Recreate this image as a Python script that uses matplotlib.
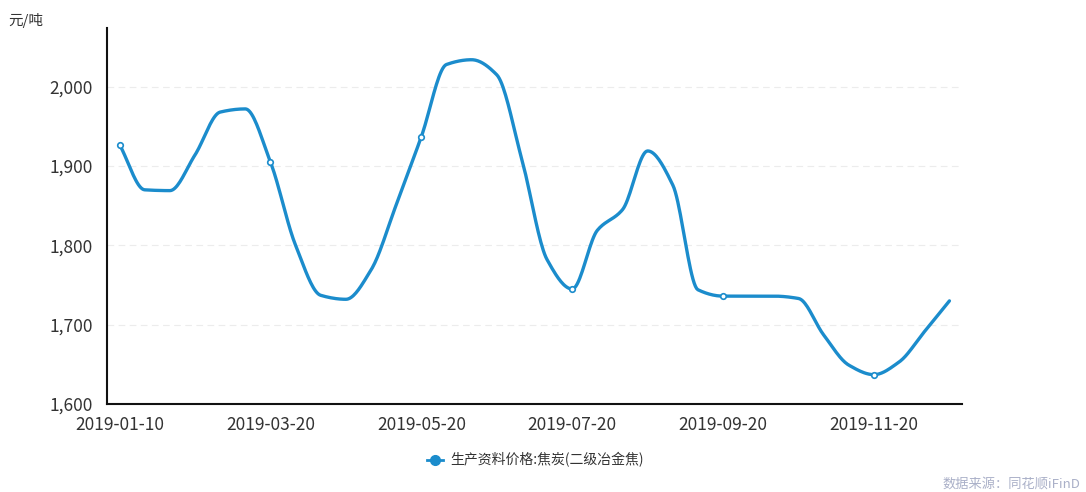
import matplotlib
matplotlib.use('Agg')
import matplotlib.pyplot as plt
import numpy as np

plt.rcParams['font.family'] = ['Noto Sans CJK SC', 'DejaVu Sans']

# 10-day coke price, 元/吨
dates = ['2019-01-10', '2019-01-20', '2019-01-31', '2019-02-20', '2019-02-28', '2019-03-10',
         '2019-03-20', '2019-03-31', '2019-04-10', '2019-04-20', '2019-04-30', '2019-05-10',
         '2019-05-20', '2019-05-31', '2019-06-10', '2019-06-20', '2019-06-30', '2019-07-10',
         '2019-07-20', '2019-07-31', '2019-08-10', '2019-08-20', '2019-08-31', '2019-09-10',
         '2019-09-20', '2019-09-30', '2019-10-10', '2019-10-20', '2019-10-31', '2019-11-10',
         '2019-11-20', '2019-11-30', '2019-12-10', '2019-12-20']
prices = [1927, 1870, 1869, 1914, 1968, 1972,
          1905, 1800, 1737, 1732, 1769, 1851,
          1937, 2028, 2034, 2015, 1908, 1782,
          1745, 1819, 1845, 1919, 1876, 1744,
          1736, 1736, 1736, 1733, 1687, 1649,
          1637, 1653, 1691, 1730]
series_name = '生产资料价格:焦炭(二级冶金焦)'
y_ticks = [1600, 1700, 1800, 1900, 2000]

line_color = '#1b8ccc'


def smooth(x, y, n=20):
    # monotone cubic (no overshoot), only used to draw a soft line
    x = np.asarray(x, float)
    y = np.asarray(y, float)
    d = np.diff(y) / np.diff(x)
    m = np.zeros_like(y)
    for i in range(1, len(y) - 1):
        if d[i - 1] * d[i] > 0:
            m[i] = 2.0 / (1.0 / d[i - 1] + 1.0 / d[i])
    m[0] = d[0]
    m[-1] = d[-1]
    xs, ys = [], []
    for i in range(len(x) - 1):
        h = x[i + 1] - x[i]
        t = np.linspace(0, 1, n, endpoint=False)
        h00 = 2 * t**3 - 3 * t**2 + 1
        h10 = t**3 - 2 * t**2 + t
        h01 = -2 * t**3 + 3 * t**2
        h11 = t**3 - t**2
        xs.append(x[i] + t * h)
        ys.append(h00 * y[i] + h10 * h * m[i] + h01 * y[i + 1] + h11 * h * m[i + 1])
    xs.append([x[-1]])
    ys.append([y[-1]])
    return np.concatenate(xs), np.concatenate(ys)


px = 1 / 100
fig = plt.figure(figsize=(1086 * px, 492 * px), dpi=100)
ax = fig.add_axes([107 / 1086, 1 - 404 / 492, (962 - 107) / 1086, (404 - 28) / 492])

idx = np.arange(len(prices))
sx, sy = smooth(idx, prices)
ax.plot(sx, sy, color=line_color, lw=2.4, solid_capstyle='round', zorder=3)

mk = idx[::6]
ax.plot(mk, np.array(prices)[mk], 'o', ms=4, mfc='white', mec=line_color, mew=1.2, zorder=4)

ax.set_xlim(-0.5, len(prices) - 0.5)
ax.set_ylim(1600, 2074)
ax.set_yticks(y_ticks)
ax.set_yticklabels(['{:,}'.format(v) for v in y_ticks])
ax.set_xticks(mk)
ax.set_xticklabels([dates[i] for i in mk])

for v in y_ticks[1:]:
    ax.axhline(v, color='#ececec', lw=0.8, ls=(0, (6, 4)), zorder=1)

for s in ['top', 'right']:
    ax.spines[s].set_visible(False)
for s in ['left', 'bottom']:
    ax.spines[s].set_color('#111111')
    ax.spines[s].set_linewidth(1.5)
ax.tick_params(length=0, labelsize=12.5, colors='#333333')
ax.tick_params(axis='x', pad=9)
ax.tick_params(axis='y', pad=10)

fig.text(8 / 1086, 1 - 20 / 492, '元/吨', fontsize=10.5, color='#333333', va='center')

# legend
fig.lines.append(plt.Line2D([427 / 1086, 443 / 1086], [1 - 460 / 492] * 2, transform=fig.transFigure,
                            color=line_color, lw=2))
fig.lines.append(plt.Line2D([435 / 1086], [1 - 460 / 492], transform=fig.transFigure,
                            marker='o', ms=7, color=line_color))
fig.text(450 / 1086, 1 - 460 / 492, series_name, fontsize=10, color='#333333', va='center')

fig.text(1080 / 1086, 1 - 484 / 492, '数据来源：同花顺iFinD', fontsize=9.5, color='#aab0c8',
         ha='right', va='center')

plt.savefig('out.png', dpi=100)
